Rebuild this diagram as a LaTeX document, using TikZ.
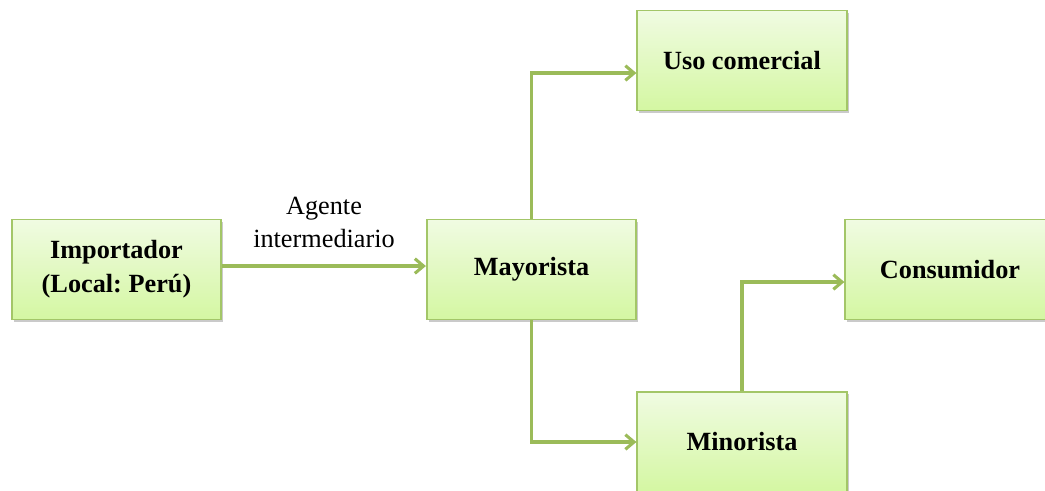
\documentclass[tikz,border=0pt]{standalone}
\usepackage{fontspec}
\setmainfont{Liberation Serif}
\frenchspacing
\usetikzlibrary{arrows.meta,shadows,positioning}
\definecolor{lineg}{RGB}{155,187,89}
\definecolor{boxborder}{RGB}{163,198,104}
\definecolor{boxtop}{RGB}{240,251,226}
\definecolor{boxbot}{RGB}{212,247,162}
\tikzset{
  stagebox/.style={draw=boxborder, line width=1.4pt, top color=boxtop, bottom color=boxbot,
    minimum width=157pt, minimum height=75pt, inner sep=0pt, align=center,
    font=\fontsize{19.7}{25.5}\selectfont\bfseries,
    drop shadow={shadow xshift=1.6pt, shadow yshift=-1.6pt, opacity=0.35, fill=black!60}},
  flow/.style={draw=lineg, line width=2.3pt, -{Straight Barb[length=6.5pt,width=11pt]}},
  lbl/.style={font=\fontsize{19.7}{24.8}\selectfont, align=center}
}
\begin{document}
\begin{tikzpicture}[x=0.75pt,y=-0.75pt]
\useasboundingbox (0,0) rectangle (1045,491);
\clip (0,0) rectangle (1045,491);
\node[stagebox] (imp) at (116.5,269.5) {Importador\\(Local: Perú)};
\node[stagebox] (may) at (531.5,269.5) {Mayorista};
\node[stagebox] (uso) at (742,60.5) {Uso comercial};
\node[stagebox] (con) at (950,269.5) {Consumidor};
\node[stagebox] (min) at (742,442) {Minorista};
\draw[flow] ([yshift=2.6pt]imp.east) -- node[lbl, midway, above=9pt] (ag) {Agente\\intermediario} ([yshift=2.6pt]may.west);
\draw[flow] (may.north) |- ([yshift=-9.4pt]uso.west);
\draw[flow] (may.south) |- (min.west);
\draw[flow] (min.north) |- ([yshift=-9.4pt]con.west);
\end{tikzpicture}
\end{document}
